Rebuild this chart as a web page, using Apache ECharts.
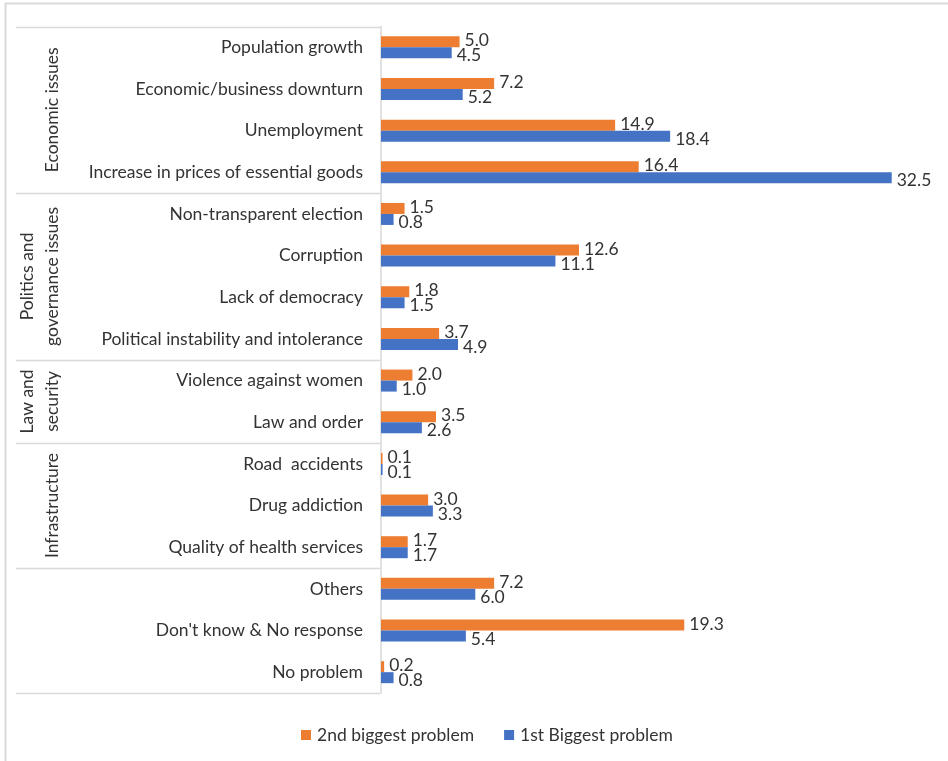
<!DOCTYPE html>
<html>
<head>
<meta charset="utf-8">
<script src="https://cdn.jsdelivr.net/npm/echarts@6/dist/echarts.min.js"></script>
<style>
  html, body { margin: 0; padding: 0; background: #fff; }
  #chart { width: 948px; height: 761px; }
</style>
</head>
<body>
<div id="chart"></div>
<script>
// Problems, listed top to bottom
const categories = [
  'Population growth',
  'Economic/business downturn',
  'Unemployment',
  'Increase in prices of essential goods',
  'Non-transparent election',
  'Corruption',
  'Lack of democracy',
  'Political instability and intolerance',
  'Violence against women',
  'Law and order',
  'Road  accidents',
  'Drug addiction',
  'Quality of health services',
  'Others',
  "Don't know & No response",
  'No problem'
];

// Share of respondents (%)
const secondBiggest = [5.0, 7.2, 14.9, 16.4, 1.5, 12.6, 1.8, 3.7, 2.0, 3.5, 0.1, 3.0, 1.7, 7.2, 19.3, 0.2];
const firstBiggest  = [4.5, 5.2, 18.4, 32.5, 0.8, 11.1, 1.5, 4.9, 1.0, 2.6, 0.1, 3.3, 1.7, 6.0, 5.4, 0.8];

// Category groups: label and number of problems in each
const groupNames  = ['Economic issues', 'Politics and\ngovernance issues', 'Law and\nsecurity', 'Infrastructure', ''];
const groupCounts = [4, 4, 2, 3, 3];

const seriesNames = ['2nd biggest problem', '1st Biggest problem'];

const FONT = 'Lato, "Open Sans", sans-serif';
const FS = 17.5;
const TEXT = '#333333';
const RULE = '#d9d9d9';

const chart = echarts.init(document.getElementById('chart'), null, { renderer: 'canvas' });

const valueLabel = (dy) => ({
  show: true,
  position: 'right',
  distance: 5,
  offset: [0, dy],
  fontFamily: FONT,
  fontSize: FS,
  color: TEXT,
  formatter: (p) => p.value.toFixed(1)
});

chart.setOption({
  animation: false,
  backgroundColor: '#fff',
  grid: { left: 381, right: 17, top: 26.5, bottom: 68, containLabel: false },
  xAxis: {
    type: 'value',
    min: 0,
    max: 35,
    show: false
  },
  yAxis: {
    type: 'category',
    inverse: true,
    data: categories,
    axisLine: { show: true, lineStyle: { color: RULE, width: 1.5 } },
    axisTick: { show: false },
    axisLabel: { fontFamily: FONT, fontSize: FS, color: TEXT, margin: 18 }
  },
  legend: {
    data: seriesNames,
    left: 296,
    top: 721,
    itemWidth: 10,
    itemHeight: 10,
    itemGap: 30,
    icon: 'rect',
    textStyle: { fontFamily: FONT, fontSize: FS, color: TEXT, padding: [0, 0, 0, 1] }
  },
  series: [
    {
      name: seriesNames[0],
      type: 'bar',
      data: secondBiggest,
      barWidth: 11,
      barGap: '0%',
      itemStyle: { color: '#ED7D31' },
      label: valueLabel(-1)
    },
    {
      name: seriesNames[1],
      type: 'bar',
      data: firstBiggest,
      barWidth: 11,
      barGap: '0%',
      itemStyle: { color: '#4472C4' },
      label: valueLabel(3)
    }
  ]
});

// Group dividers and rotated group titles, placed from the category axis
const c0 = chart.convertToPixel({ yAxisIndex: 0 }, 0);
const c1 = chart.convertToPixel({ yAxisIndex: 0 }, 1);
const band = c1 - c0;
const axisX = chart.convertToPixel({ xAxisIndex: 0 }, 0) - 0.5;
const edgeY = (i) => c0 - band / 2 + i * band;

const graphics = [
  // outer frame
  {
    type: 'rect', silent: true, z: 0,
    shape: { x: 5.5, y: 3.5, width: 1000, height: 1000 },
    style: { fill: null, stroke: RULE, lineWidth: 2 }
  }
];

let start = 0;
const boundaries = [0];
groupCounts.forEach((n, g) => {
  const top = edgeY(start);
  const bottom = edgeY(start + n);
  boundaries.push(start + n);
  if (groupNames[g]) {
    graphics.push({
      type: 'text', silent: true,
      x: 65, y: (top + bottom) / 2,
      rotation: Math.PI / 2,
      style: {
        text: groupNames[g],
        fontFamily: FONT, fontSize: FS, fill: TEXT,
        align: 'center', verticalAlign: 'bottom', lineHeight: 25
      }
    });
  }
  start += n;
});

boundaries.forEach((i) => {
  const y = Math.round(edgeY(i)) + 0.5;
  graphics.push({
    type: 'line', silent: true,
    shape: { x1: 16, y1: y, x2: axisX, y2: y },
    style: { stroke: RULE, lineWidth: 1.5 }
  });
});

chart.setOption({ graphic: graphics });
</script>
</body>
</html>
